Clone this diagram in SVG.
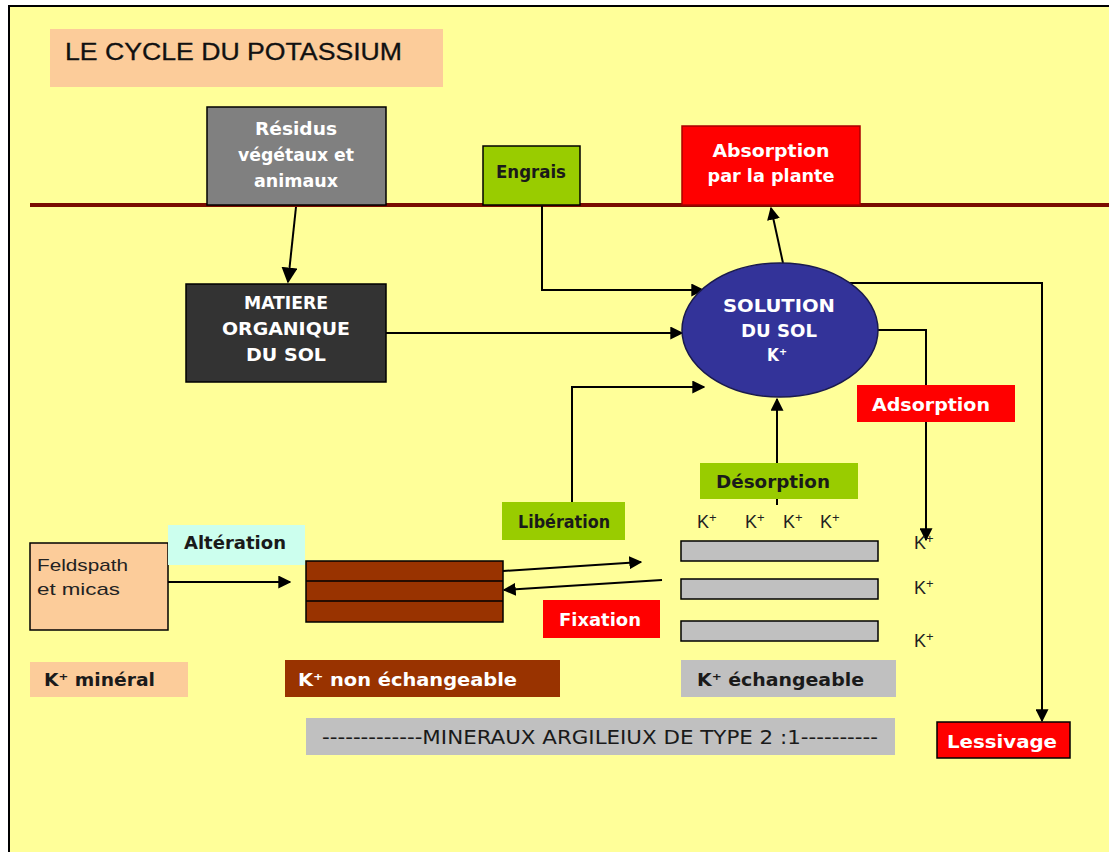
<svg xmlns="http://www.w3.org/2000/svg" width="1109" height="852" viewBox="0 0 1109 852">
<defs>
<style>
.b{font-family:'DejaVu Sans Condensed','DejaVu Sans','Liberation Sans',sans-serif;font-weight:bold;font-size:17px}
.r{font-family:'Liberation Sans','DejaVu Sans',sans-serif;font-size:17px}
.k{font-family:'Liberation Sans','DejaVu Sans',sans-serif;font-size:18px;fill:#222}
.w{fill:#ffffff}
.d{fill:#1a1a1a}
.ln{fill:none;stroke:#000;stroke-width:2}
.bk{stroke:#000;stroke-width:1.5}
</style>
<marker id="ah" viewBox="0 0 10 10" refX="9" refY="5" markerWidth="6.5" markerHeight="6.5" orient="auto" markerUnits="strokeWidth">
<path d="M0,0 L10,5 L0,10 z" fill="#000"/>
</marker>
<marker id="ahs" viewBox="0 0 10 10" refX="9" refY="5" markerWidth="8" markerHeight="8" orient="auto" markerUnits="strokeWidth">
<path d="M0,0 L10,5 L0,10 z" fill="#000"/>
</marker>
</defs>
<rect x="0" y="0" width="1109" height="852" fill="#ffffff"/>
<rect x="10" y="7" width="1099" height="845" fill="#ffff99"/>
<line x1="9" y1="6" x2="9" y2="852" stroke="#000" stroke-width="2"/>
<line x1="8" y1="6" x2="1109" y2="6" stroke="#000" stroke-width="2"/>

<g id="title">
<rect x="50" y="29" width="393" height="58" fill="#fccc9a"/>
<text x="65" y="60" font-family="'Liberation Sans',sans-serif" font-size="24" fill="#111" stroke="#111" stroke-width="0.3" textLength="337" lengthAdjust="spacingAndGlyphs">LE CYCLE DU POTASSIUM</text>
</g>

<line id="surface" x1="30" y1="205" x2="1109" y2="205" stroke="#7a0c00" stroke-width="4"/>

<g id="connectors">
<line class="ln" x1="296" y1="207" x2="288" y2="282" stroke-width="1.5" marker-end="url(#ahs)"/>
<line class="ln" x1="386" y1="333" x2="682" y2="333" marker-end="url(#ah)"/>
<polyline class="ln" points="542,206 542,290 703,290" marker-end="url(#ah)"/>
<line class="ln" x1="783" y1="263" x2="771" y2="208" marker-end="url(#ah)"/>
<polyline class="ln" points="848,283 1042,283 1042,721" marker-end="url(#ah)"/>
<polyline class="ln" points="878,330 926,330 926,540" marker-end="url(#ah)"/>
<line class="ln" x1="777" y1="505" x2="777" y2="399" marker-end="url(#ah)"/>
<polyline class="ln" points="572,502 572,387 704,387" marker-end="url(#ah)"/>
<line class="ln" x1="168" y1="582" x2="290" y2="582" marker-end="url(#ah)"/>
<line class="ln" x1="503" y1="571" x2="641" y2="562" marker-end="url(#ah)"/>
<line class="ln" x1="662" y1="580" x2="504" y2="590" marker-end="url(#ah)"/>
</g>

<g id="residus">
<rect x="207" y="107" width="179" height="98" fill="#808080" class="bk"/>
<text class="b w" x="296" y="135" text-anchor="middle" textLength="82" lengthAdjust="spacingAndGlyphs">Résidus</text>
<text class="b w" x="296" y="161" text-anchor="middle" textLength="116" lengthAdjust="spacingAndGlyphs">végétaux et</text>
<text class="b w" x="296" y="187" text-anchor="middle" textLength="84" lengthAdjust="spacingAndGlyphs">animaux</text>
</g>

<g id="engrais">
<rect x="483" y="146" width="97" height="59" fill="#99cc00" class="bk"/>
<text class="b d" x="531" y="178" text-anchor="middle" textLength="70" lengthAdjust="spacingAndGlyphs">Engrais</text>
</g>

<g id="absorption">
<rect x="682" y="126" width="178" height="79" fill="#ff0000" stroke="#aa0000" stroke-width="1.5"/>
<text class="b w" x="771" y="157" text-anchor="middle" textLength="117" lengthAdjust="spacingAndGlyphs">Absorption</text>
<text class="b w" x="771" y="182" text-anchor="middle" textLength="127" lengthAdjust="spacingAndGlyphs">par la plante</text>
</g>

<g id="matiere">
<rect x="186" y="284" width="200" height="98" fill="#333333" class="bk"/>
<text class="b w" x="286" y="309" text-anchor="middle" textLength="84" lengthAdjust="spacingAndGlyphs">MATIERE</text>
<text class="b w" x="286" y="335" text-anchor="middle" textLength="128" lengthAdjust="spacingAndGlyphs">ORGANIQUE</text>
<text class="b w" x="286" y="361" text-anchor="middle" textLength="80" lengthAdjust="spacingAndGlyphs">DU SOL</text>
</g>

<g id="solution">
<ellipse cx="780" cy="330" rx="98" ry="67" fill="#333399" stroke="#1a1a4d" stroke-width="1.5"/>
<text class="b w" x="779" y="312" text-anchor="middle" textLength="112" lengthAdjust="spacingAndGlyphs">SOLUTION</text>
<text class="b w" x="779" y="337" text-anchor="middle" textLength="76" lengthAdjust="spacingAndGlyphs">DU SOL</text>
<text class="b w" x="777" y="361" text-anchor="middle">K⁺</text>
</g>

<g id="adsorption">
<rect x="857" y="385" width="158" height="37" fill="#ff0000"/>
<text class="b w" x="931" y="411" text-anchor="middle" textLength="118" lengthAdjust="spacingAndGlyphs">Adsorption</text>
</g>

<g id="desorption">
<rect x="700" y="463" width="158" height="36" fill="#99cc00"/>
<text class="b d" x="773" y="488" text-anchor="middle" textLength="114" lengthAdjust="spacingAndGlyphs">Désorption</text>
</g>

<g id="liberation">
<rect x="502" y="502" width="123" height="38" fill="#99cc00"/>
<text class="b d" x="564" y="528" text-anchor="middle" textLength="92" lengthAdjust="spacingAndGlyphs">Libération</text>
</g>

<g id="fixation">
<rect x="543" y="600" width="117" height="38" fill="#ff0000"/>
<text class="b w" x="600" y="626" text-anchor="middle" textLength="82" lengthAdjust="spacingAndGlyphs">Fixation</text>
</g>

<g id="feldspath">
<rect x="30" y="543" width="138" height="87" fill="#fccc9a" class="bk"/>
<text class="r" x="37" y="571" fill="#222" textLength="91" lengthAdjust="spacingAndGlyphs">Feldspath</text>
<text class="r" x="37" y="595" fill="#222" textLength="83" lengthAdjust="spacingAndGlyphs">et micas</text>
</g>

<g id="alteration">
<rect x="168" y="525" width="137" height="40" fill="#ccffee"/>
<text class="b d" x="184" y="549" textLength="102" lengthAdjust="spacingAndGlyphs">Altération</text>
</g>

<g id="non-echangeable-layers">
<rect x="306" y="561" width="197" height="61" fill="#993300" class="bk"/>
<line x1="306" y1="581" x2="503" y2="581" stroke="#000" stroke-width="1.5"/>
<line x1="306" y1="601" x2="503" y2="601" stroke="#000" stroke-width="1.5"/>
</g>

<g id="echangeable-layers">
<rect x="681" y="541" width="197" height="20" fill="#c0c0c0" class="bk"/>
<rect x="681" y="579" width="197" height="20" fill="#c0c0c0" class="bk"/>
<rect x="681" y="621" width="197" height="20" fill="#c0c0c0" class="bk"/>
</g>

<g id="k-ions">
<text class="k" x="697" y="528">K<tspan dy="-6" font-size="13">+</tspan></text>
<text class="k" x="745" y="528">K<tspan dy="-6" font-size="13">+</tspan></text>
<text class="k" x="783" y="528">K<tspan dy="-6" font-size="13">+</tspan></text>
<text class="k" x="820" y="528">K<tspan dy="-6" font-size="13">+</tspan></text>
<text class="k" x="914" y="549">K<tspan dy="-6" font-size="13">+</tspan></text>
<text class="k" x="914" y="594">K<tspan dy="-6" font-size="13">+</tspan></text>
<text class="k" x="914" y="647">K<tspan dy="-6" font-size="13">+</tspan></text>
</g>

<g id="k-mineral">
<rect x="30" y="662" width="158" height="35" fill="#fccc9a"/>
<text class="b d" x="44" y="686" textLength="111" lengthAdjust="spacingAndGlyphs">K⁺ minéral</text>
</g>

<g id="k-non-echangeable">
<rect x="285" y="660" width="275" height="37" fill="#993300"/>
<text class="b w" x="298" y="686" textLength="219" lengthAdjust="spacingAndGlyphs">K⁺  non échangeable</text>
</g>

<g id="k-echangeable">
<rect x="681" y="660" width="215" height="37" fill="#c0c0c0"/>
<text class="b d" x="697" y="686" textLength="167" lengthAdjust="spacingAndGlyphs">K⁺  échangeable</text>
</g>

<g id="mineraux">
<rect x="306" y="718" width="589" height="37" fill="#c0c0c0"/>
<text x="600" y="744" text-anchor="middle" font-family="'DejaVu Sans Condensed','Liberation Sans',sans-serif" font-size="20" fill="#1a1a1a" textLength="556" lengthAdjust="spacingAndGlyphs">-------------MINERAUX ARGILEIUX DE TYPE 2 :1----------</text>
</g>

<g id="lessivage">
<rect x="937" y="722" width="133" height="36" fill="#ff0000" class="bk"/>
<text class="b w" x="1002" y="748" text-anchor="middle" textLength="110" lengthAdjust="spacingAndGlyphs">Lessivage</text>
</g>
</svg>
